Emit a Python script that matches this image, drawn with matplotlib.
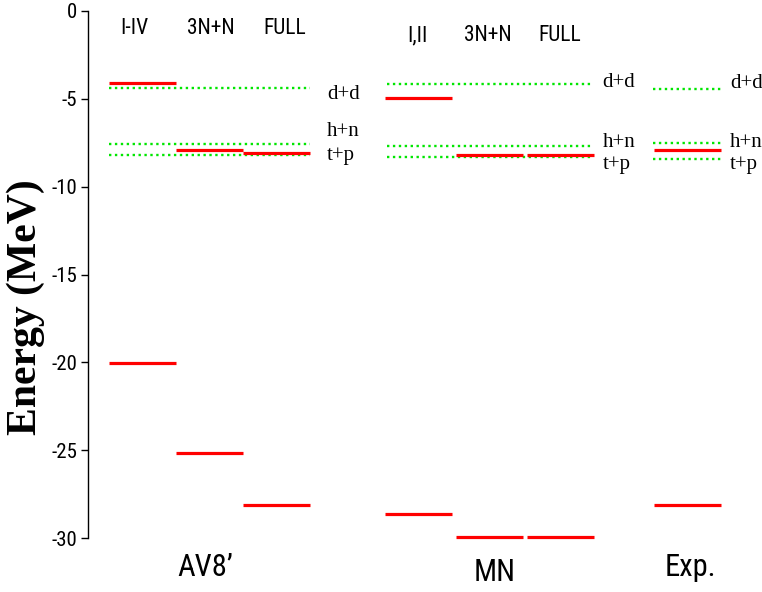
import matplotlib
matplotlib.use("Agg")
import matplotlib.pyplot as plt

plt.rcParams["axes.unicode_minus"] = False

# level energies (MeV)
av8_upper = [-4.11, -7.93, -8.06]
av8_lower = [-20.03, -25.17, -28.13]
mn_upper = [-4.95, -8.21, -8.21]
mn_lower = [-28.66, -29.95, -29.95]
exp_levels = [-7.93, -28.13]

# breakup thresholds: d+d, h+n, t+p
thr_names = ["d+d", "h+n", "t+p"]
av8_thr = [-4.36, -7.57, -8.20]
mn_thr = [-4.15, -7.68, -8.33]
exp_thr = [-4.46, -7.51, -8.40]

av8_cols = ["I-IV", "3N+N", "FULL"]
mn_cols = ["I,II", "3N+N", "FULL"]
groups = ["AV8\u2019", "MN", "Exp."]

narrow = ["Liberation Sans Narrow", "Roboto Condensed", "Liberation Sans", "DejaVu Sans"]
serif = ["Liberation Serif", "DejaVu Serif"]

W, H = 762, 592
fig = plt.figure(figsize=(W / 100, H / 100), dpi=100)
ax = fig.add_axes([88 / W, 54 / H, (W - 88) / W, 527 / H])
ax.set_xlim(0, (W - 88) / 67)
ax.set_ylim(-30, 0)

red = dict(color="#ff0000", lw=2.3, solid_capstyle="butt", clip_on=False)
green = dict(color="#00e600", lw=1.7, linestyle=(0, (1.0, 1.5)), clip_on=False)

# column slots (left edges), width 1
av8_x = [0.31, 1.31, 2.31]
mn_x = [4.43, 5.49, 6.55]
exp_x = [8.45]
w = 1.0


def draw_levels(xs, vals):
    for x0, v in zip(xs, vals):
        ax.plot([x0, x0 + w], [v, v], **red)


draw_levels(av8_x, av8_upper)
draw_levels(av8_x, av8_lower)
draw_levels(mn_x, mn_upper)
draw_levels(mn_x, mn_lower)
ax.plot([exp_x[0], exp_x[0] + w], [exp_levels[0]] * 2, **red)
ax.plot([exp_x[0], exp_x[0] + w], [exp_levels[1]] * 2, **red)


def draw_thresholds(x0, x1, vals, lab_x, offsets):
    for name, v, off in zip(thr_names, vals, offsets):
        ax.plot([x0, x1], [v, v], zorder=1, **green)
        ax.text(lab_x, v + off, name, ha="left", va="center",
                fontsize=15, family=serif, clip_on=False)


draw_thresholds(av8_x[0], av8_x[-1] + w, av8_thr, 3.57, [-0.38, 0.72, 0.0])
draw_thresholds(mn_x[0] + 0.04, mn_x[-1] + w - 0.03, mn_thr, 7.68, [0.07, 0.22, -0.42])
draw_thresholds(exp_x[0] - 0.02, exp_x[0] + w, exp_thr, 9.58, [0.35, 0.0, -0.33])

# column headers
for x, name in zip([0.69, 1.84, 2.93], av8_cols):
    ax.text(x, -1.0, name, ha="center", va="center", fontsize=15.5, family=narrow)
for x, name in zip([4.92, 5.96, 7.04], mn_cols):
    ax.text(x, -1.42, name, ha="center", va="center", fontsize=15.5, family=narrow)

# group labels under the axis
for x, y, name in zip([1.75, 6.07, 8.99], [-31.7, -31.95, -31.7], groups):
    ax.text(x, y, name, ha="center", va="center", fontsize=22,
            family=narrow, clip_on=False)

for s in ["top", "right", "bottom"]:
    ax.spines[s].set_visible(False)
ax.spines["left"].set_linewidth(1.0)
ax.set_xticks([])
ax.set_yticks(range(-30, 1, 5))
ax.tick_params(axis="y", direction="out", length=5, width=1.0, pad=3,
               labelsize=15)
for lab in ax.get_yticklabels():
    lab.set_family(narrow)

fig.text(26 / W, 1 - 307 / H, "Energy (MeV)", rotation=90, ha="center",
         va="center", fontsize=30, fontweight="bold", family=serif)

fig.savefig("out.png", dpi=100)
